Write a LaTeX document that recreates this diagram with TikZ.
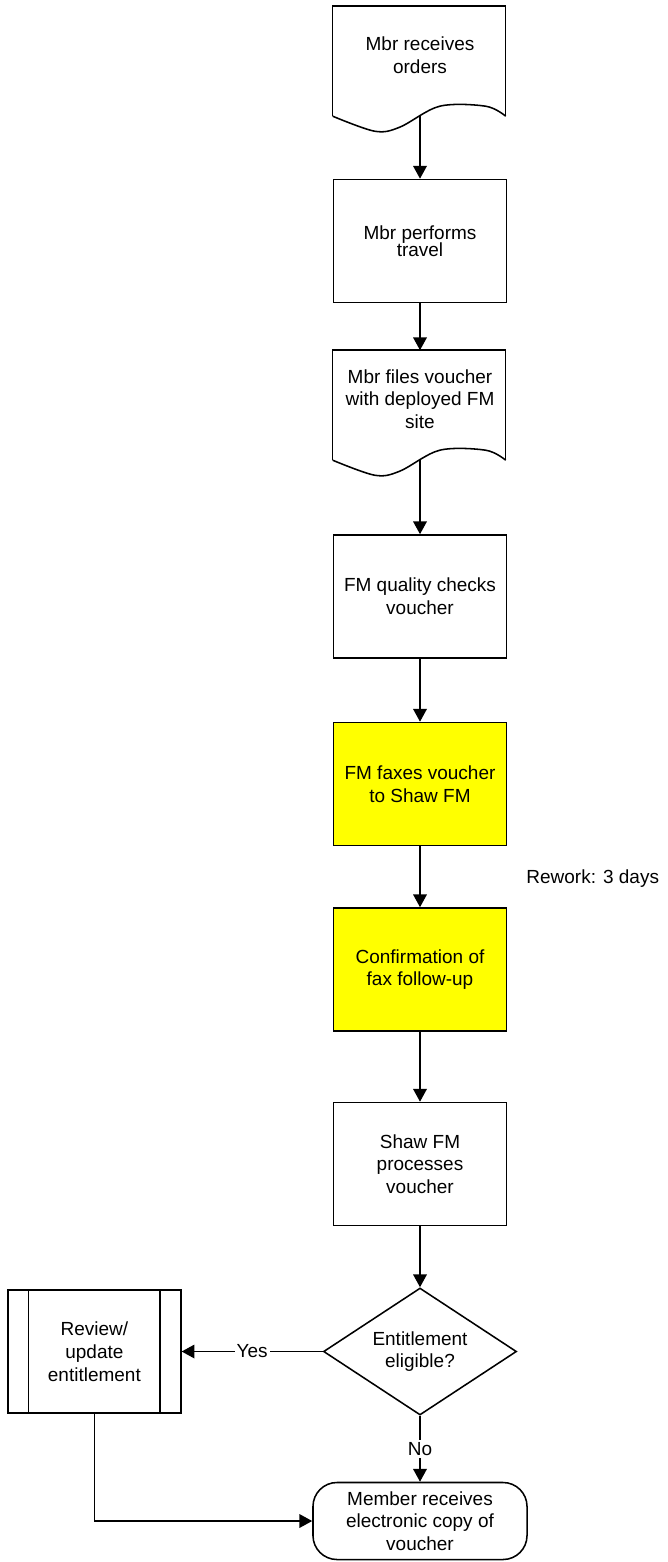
\documentclass[tikz,border=0pt]{standalone}
\usepackage{fontspec}
\setmainfont{Liberation Sans}
\usetikzlibrary{shapes.geometric, arrows.meta, positioning}
\definecolor{faxyellow}{RGB}{255,255,0}
\tikzstyle{every node}=[font=\fontsize{13.5}{16.2}\selectfont]
\tikzstyle{block}=[draw,rectangle,minimum width=4.325cm,minimum height=3.075cm,align=center,inner sep=2pt]
\tikzstyle{hilite}=[block,fill=faxyellow]
\tikzstyle{docbox}=[rectangle,minimum width=4.325cm,minimum height=2.4cm,align=center,inner sep=2pt]
\tikzstyle{decide}=[draw,diamond,aspect=1.5,minimum width=4.825cm,minimum height=3.175cm,align=center,inner sep=1pt]
\tikzstyle{endbox}=[draw,rectangle,rounded corners=0.6cm,minimum width=5.35cm,minimum height=1.925cm,align=center,inner sep=1pt]
\tikzstyle{lbl}=[fill=white,inner sep=1.5pt]
% document outline with wavy bottom, foot coordinate for the outgoing arrow
\newcommand{\docedge}[1]{%
  \draw[shift={(#1.north west)}] (0,110) -- (0,0) -- (173,0) -- (173,110);
  \draw[shift={(#1.north west)}] plot[smooth,tension=0.55] coordinates {(0,110) (42,125) (67,121) (107,100) (153,100) (173,110)};
  \coordinate (#1-foot) at ([yshift=-2.75cm]#1.north);}

\begin{document}
\begin{tikzpicture}[>={Triangle[length=3.2mm,width=3.4mm]}, line width=1.1pt, x=0.025cm, y=-0.025cm]
    \useasboundingbox (0,0) rectangle (668,1562);
    \node[docbox] (orders) at (420,55) {Mbr receives\\orders};
    \node[block] (travel) at (420,241) {Mbr performs\\[-0.15cm]travel};
    \node[docbox] (files) at (420,399) {Mbr files voucher\\with deployed FM\\site};
    \node[block] (check) at (420,596.5) {FM quality checks\\voucher};
    \node[hilite] (fax) at (420,784) {FM faxes voucher\\to Shaw FM};
    \node[hilite] (confirm) at (420,969.5) {Confirmation of\\fax follow-up};
    \node[block] (shaw) at (420,1164) {Shaw FM\\processes\\voucher};
    \node[decide] (elig) at (420,1351.5) {Entitlement\\eligible?};
    \node[block, left=3.525cm of elig] (review) {Review/\\update\\entitlement};
    \node[endbox] (member) at (420,1521) {Member receives\\electronic copy of\\voucher};
    \node[anchor=west] (rework) at (521,879) {Rework: 3 days};
    \docedge{orders}
    \docedge{files}
    \draw ([xshift=0.54cm]review.north west) -- ([xshift=0.54cm]review.south west);
    \draw ([xshift=-0.54cm]review.north east) -- ([xshift=-0.54cm]review.south east);
    \draw[->] (orders-foot) -- (travel);
    \draw[->] (travel) -- (files.north);
    \draw[->] (files-foot) -- (check);
    \draw[->] (check) -- (fax);
    \draw[->] (fax) -- (confirm);
    \draw[->] (confirm) -- (shaw);
    \draw[->] (shaw) -- (elig);
    \draw[->] (elig.west) -- node[lbl] (yes) {Yes} (elig.west -| review.east);
    \draw[->] (elig) -- node[lbl] (no) {No} (member);
    \draw[->] (review) |- (member);
\end{tikzpicture}
\end{document}
